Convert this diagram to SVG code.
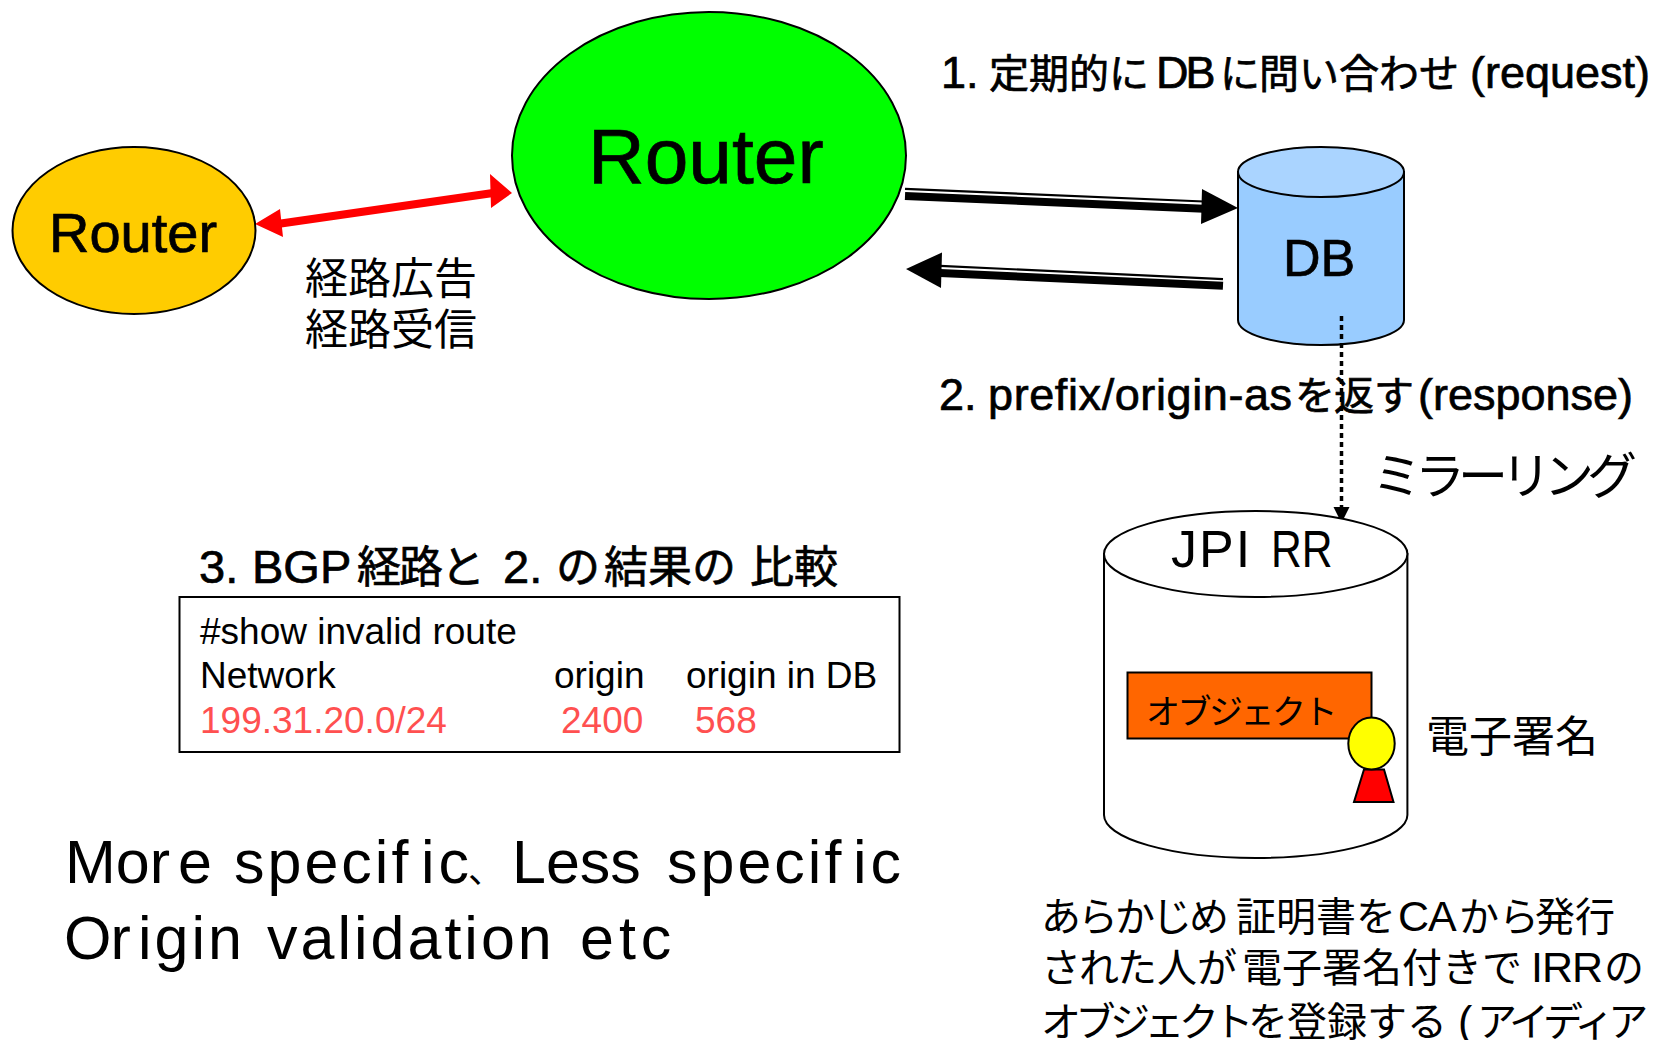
<svg xmlns="http://www.w3.org/2000/svg" width="1654" height="1040" viewBox="0 0 1654 1040">
<style>
text{font-family:"Liberation Sans","Noto Sans CJK JP",sans-serif;fill:#000}
.b{stroke:#000;stroke-width:.7}
.l{font-size:45px}
.j{font-size:40px}
.big{font-size:61px}
.cmd{font-size:37px}
.red{fill:#FF5050}
.s{stroke:#000;stroke-width:2}
.wide{letter-spacing:3px}
.t{stroke:#000;stroke-width:2.200;fill:none}
.k{stroke:#000;stroke-width:8;fill:none}
</style>
<defs>
<marker id="dot" markerUnits="userSpaceOnUse" markerWidth="17" markerHeight="17" refX="16" refY="8" orient="auto"><path d="M0 0L16 8L0 16Z" fill="#000"/></marker>
</defs>
<g id="connectors">
<path d="M274 224.500L493 193" stroke="#f00" stroke-width="8" fill="none"/>
<path d="M255 224L280 209L283 237Z M512 193L490 174L491 208Z" fill="#f00"/>
<path class="t" d="M905 188.900L1204 201.500"/>
<path class="k" d="M905 196L1204 208.700"/>
<path d="M1238 208L1202 189L1201 224Z" fill="#000"/>
<path class="t" d="M940 265.800L1223 279.200"/>
<path class="k" d="M940 273L1223 285.800"/>
<path d="M906 269L942 252.500L941 288Z" fill="#000"/>
</g>
<g id="router-small">
<ellipse class="s" cx="134" cy="230.500" rx="121.500" ry="83.500" fill="#FFCC00"/>
<text class="b" x="49" y="252" font-size="56">Router</text>
</g>
<g id="router-big">
<ellipse class="s" cx="709" cy="155.500" rx="197" ry="143.500" fill="#00FF00"/>
<text class="b" x="588" y="183" font-size="78.500">Router</text>
</g>
<g id="label-route">
<text x="305" y="294" font-size="43">経路広告</text>
<text x="305" y="345" font-size="43">経路受信</text>
</g>
<g id="db">
<path class="s" d="M1238 172V320A83 25 0 0 0 1404 320V172Z" fill="#99CCFF"/>
<ellipse class="s" cx="1321" cy="172" rx="83" ry="25" fill="#AAD4FF"/>
<text class="b" x="1283" y="276" font-size="52">DB</text>
</g>
<g id="mirror-connector">
<path d="M1341.500 316V523" stroke="#000" stroke-width="3.500" stroke-dasharray="5 4" fill="none" marker-end="url(#dot)"/>
</g>
<g id="label-request">
<text class="b" y="88"><tspan class="l" x="941">1.</tspan><tspan class="j" x="989">定期的に</tspan><tspan class="l" x="1156" letter-spacing="-3">DB</tspan><tspan class="j" x="1220">に</tspan><tspan class="j" x="1259">問い合わせ</tspan><tspan class="l" x="1470">(request)</tspan></text>
</g>
<g id="label-response">
<text class="b" y="410"><tspan class="l" x="939">2.</tspan><tspan class="l" x="988" letter-spacing=".6">prefix/origin-as</tspan><tspan class="j" x="1295">を</tspan><tspan class="j" x="1334">返す</tspan><tspan class="l" x="1418">(response)</tspan></text>
</g>
<text id="label-mirror" x="1372" y="494" font-size="50" letter-spacing="-7">ミラーリング</text>
<g id="jpirr">
<path class="s" d="M1104 554V815A151.700 43 0 0 0 1407.400 815V554Z" fill="#fff"/>
<ellipse class="s" cx="1255.700" cy="554" rx="151.700" ry="43" fill="#fff"/>
<text x="1171" y="567" font-size="52" letter-spacing="2">JPI</text>
<text transform="translate(1271 567) scale(.82 1)" font-size="52">RR</text>
</g>
<g id="object">
<rect class="s" x="1127.500" y="672.500" width="244" height="66" fill="#FF6600"/>
<text x="1146" y="724" font-size="34" letter-spacing="-2.500">オブジェクト</text>
</g>
<g id="signer">
<path class="s" d="M1364 769.500H1384L1393.500 802H1354Z" fill="#f00"/>
<ellipse class="s" cx="1371.500" cy="743.500" rx="23.200" ry="26" fill="#FF0"/>
</g>
<text id="label-sign" x="1426" y="752" font-size="43">電子署名</text>
<g id="note">
<text y="931" font-size="40"><tspan x="1041" letter-spacing="-3">あらかじめ</tspan><tspan x="1236">証明書を</tspan><tspan x="1398" font-size="43" letter-spacing="-1">CA</tspan><tspan x="1459">から</tspan><tspan x="1535">発行</tspan></text>
<text y="982" font-size="40"><tspan x="1041" letter-spacing="-2">された</tspan><tspan x="1157">人が</tspan><tspan x="1242">電子署名付きで</tspan><tspan x="1531" font-size="43" letter-spacing="-1">IRR</tspan><tspan x="1604" letter-spacing="-4">の</tspan></text>
<text y="1036" font-size="40"><tspan x="1041" letter-spacing="-5.500">オブジェクトを</tspan><tspan x="1287">登録する</tspan><tspan x="1458" font-size="43">(</tspan><tspan x="1477" letter-spacing="-6">アイディア</tspan></text>
</g>
<g id="label-compare">
<text class="b" y="583"><tspan font-size="47" x="199">3.</tspan><tspan font-size="47" x="252">BGP</tspan><tspan font-size="44" letter-spacing="-2" x="357">経路と</tspan><tspan font-size="47" x="503">2.</tspan><tspan font-size="44" x="556">の</tspan><tspan font-size="44" x="604">結果の</tspan><tspan font-size="44" x="750">比較</tspan></text>
</g>
<g id="result-box">
<rect class="s" x="179.500" y="597" width="720" height="155" fill="#fff"/>
<text class="cmd" x="200" y="644">#show invalid route</text>
<text class="cmd" y="688"><tspan x="200">Network</tspan><tspan x="554">origin</tspan><tspan x="686">origin in DB</tspan></text>
<text class="cmd red" y="733"><tspan class="red" x="200">199.31.20.0/24</tspan><tspan class="red" x="561">2400</tspan><tspan class="red" x="695">568</tspan></text>
</g>
<g id="label-types">
<text class="big" y="883"><tspan x="65">Mor</tspan><tspan x="178">e</tspan><tspan class="wide" x="234">specif</tspan><tspan x="421" letter-spacing="4">ic</tspan><tspan x="468" font-size="36">、</tspan><tspan x="512">Less</tspan><tspan class="wide" x="667">specif</tspan><tspan x="853" letter-spacing="4">ic</tspan></text>
<text class="big" y="959"><tspan x="64" letter-spacing="-1">Or</tspan><tspan class="wide" x="138">igin</tspan><tspan class="wide" x="267">validation</tspan><tspan x="580" letter-spacing="5">etc</tspan></text>
</g>
</svg>
